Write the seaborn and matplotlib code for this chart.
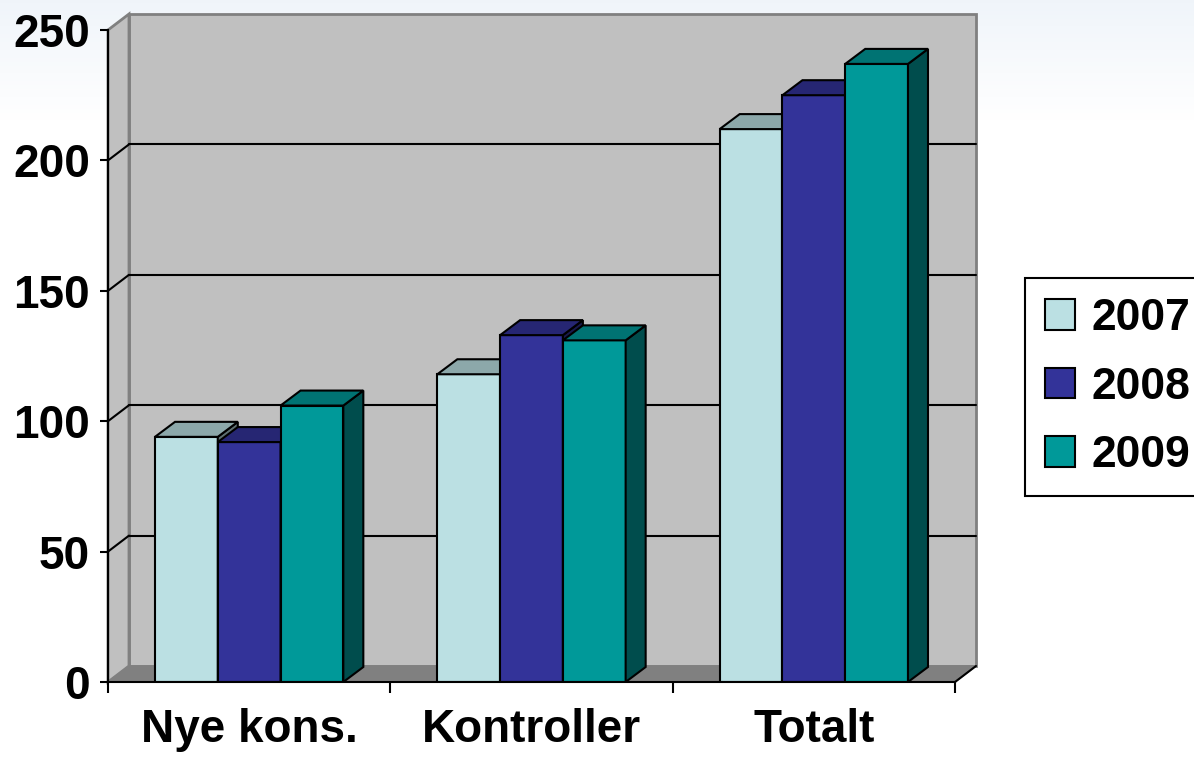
import numpy as np
import pandas as pd
import seaborn as sns
import matplotlib.pyplot as plt
from matplotlib.patches import Polygon, Patch

# data
categories = ["Nye kons.", "Kontroller", "Totalt"]
years = ["2007", "2008", "2009"]
v2007 = [94, 118, 212]
v2008 = [92, 133, 225]
v2009 = [106, 131, 237]

front_cols = ["#BBE0E3", "#333399", "#009999"]

df = pd.DataFrame({
    "kategori": categories * 3,
    "aar": [y for y in years for _ in categories],
    "antall": v2007 + v2008 + v2009,
})

sns.set_style("white")
plt.rcParams["font.family"] = ["Liberation Sans", "DejaVu Sans"]
plt.rcParams["font.weight"] = "bold"
for key in ["text.color", "xtick.color", "ytick.color", "axes.labelcolor"]:
    plt.rcParams[key] = "black"

W, H = 1194, 761
fig = plt.figure(figsize=(W / 100, H / 100), dpi=100)

# faint slide background gradient at the top
bg = fig.add_axes([0, 0, 1, 1], zorder=-10)
grad = np.ones((H, 1, 3))
top = np.array([0.94, 0.96, 0.98])
fade = np.clip(np.arange(H) / 120.0, 0, 1)[:, None]
grad[:, 0, :] = top * (1 - fade) + fade
bg.imshow(grad, aspect="auto", extent=[0, 1, 0, 1])
bg.axis("off")

ax = fig.add_axes([108 / W, (H - 682) / H, (955 - 108) / W, (682 - 30) / H])
ax.patch.set_alpha(0)

sns.barplot(data=df, x="kategori", y="antall", hue="aar", palette=front_cols,
            width=0.667, edgecolor="black", linewidth=1.5, saturation=1,
            legend=False, ax=ax)
bars = sorted([p for p in ax.patches], key=lambda p: p.get_x())

ax.set_xlim(-0.5, 2.5)
ax.set_ylim(0, 250)

# pixel -> data conversions for the depth offsets
px_x = ax.transData.transform((1, 0))[0] - ax.transData.transform((0, 0))[0]
px_y = ax.transData.transform((0, 1))[1] - ax.transData.transform((0, 0))[1]
wdx, wdy = 21 / px_x, 16 / px_y   # wall depth
bdx, bdy = 20 / px_x, 15 / px_y   # bar depth

x0, x1 = -0.5, 2.5
# back wall, left wall, floor
ax.add_patch(Polygon([(x0 + wdx, wdy), (x1 + wdx, wdy), (x1 + wdx, 250 + wdy), (x0 + wdx, 250 + wdy)],
                     closed=True, fc="#C0C0C0", ec="#808080", lw=2, zorder=0, clip_on=False))
ax.add_patch(Polygon([(x0, 0), (x0 + wdx, wdy), (x0 + wdx, 250 + wdy), (x0, 250)],
                     closed=True, fc="#C0C0C0", ec="#808080", lw=2, zorder=0, clip_on=False))
ax.add_patch(Polygon([(x0, 0), (x1, 0), (x1 + wdx, wdy), (x0 + wdx, wdy)],
                     closed=True, fc="#808080", ec="#808080", lw=1, zorder=0.2, clip_on=False))
ax.plot([x1, x1 + wdx], [0, wdy], color="black", lw=1.5, zorder=0.3, clip_on=False)

# gridlines on the back wall and their diagonals on the side wall
for t in [50, 100, 150, 200]:
    ax.plot([x0 + wdx, x1 + wdx], [t + wdy, t + wdy], color="black", lw=1.5, zorder=0.5, clip_on=False)
    ax.plot([x0, x0 + wdx], [t, t + wdy], color="black", lw=1.5, zorder=0.5, clip_on=False)

# 3D faces of each bar, drawn left to right
for k, b in enumerate(bars):
    base = np.array(b.get_facecolor()[:3])
    xl, xr, h = b.get_x(), b.get_x() + b.get_width(), b.get_height()
    z = 5 + k
    b.set_zorder(z)
    topf = Polygon([(xl, h), (xr, h), (xr + bdx, h + bdy), (xl + bdx, h + bdy)], closed=True,
                   fc=tuple(base * 0.75), ec="black", lw=1.5, zorder=z, clip_on=False)
    side = Polygon([(xr, 0), (xr + bdx, bdy), (xr + bdx, h + bdy), (xr, h)], closed=True,
                   fc=tuple(base * 0.5), ec="black", lw=1.5, zorder=z, clip_on=False)
    ax.add_patch(side)
    ax.add_patch(topf)

# axes styling
for s in ["top", "right"]:
    ax.spines[s].set_visible(False)
for s in ["left", "bottom"]:
    ax.spines[s].set_color("black")
    ax.spines[s].set_linewidth(1.5)
    ax.spines[s].set_zorder(30)

ax.set_yticks([0, 50, 100, 150, 200, 250])
ax.tick_params(axis="y", direction="out", length=6, width=1.5, pad=7, labelsize=33, left=True)
ax.set_xticks([-0.5, 0.5, 1.5, 2.5])
ax.set_xticklabels([])
ax.set_xticks([0, 1, 2], minor=True)
ax.set_xticklabels(categories, minor=True)
ax.tick_params(axis="x", which="major", direction="out", length=8, width=1.5, bottom=True)
ax.tick_params(axis="x", which="minor", length=0, pad=19, labelsize=33)
for lab in ax.get_yticklabels() + ax.get_xticklabels(minor=True):
    lab.set_fontweight("bold")
ax.set_xlabel("")
ax.set_ylabel("")

handles = [Patch(facecolor=c, edgecolor="black", linewidth=1.5, label=y) for c, y in zip(front_cols, years)]
leg = fig.legend(handles=handles, loc="upper left", bbox_to_anchor=(1025 / W, 1 - 278 / H),
                 frameon=True, fancybox=False, edgecolor="black", framealpha=1,
                 prop={"size": 32, "weight": "bold"}, handlelength=0.68, handleheight=0.68,
                 handletextpad=0.36, borderpad=0.45, labelspacing=0.62, borderaxespad=0)
leg.get_frame().set_linewidth(1.5)

plt.savefig("out.png", dpi=100)
